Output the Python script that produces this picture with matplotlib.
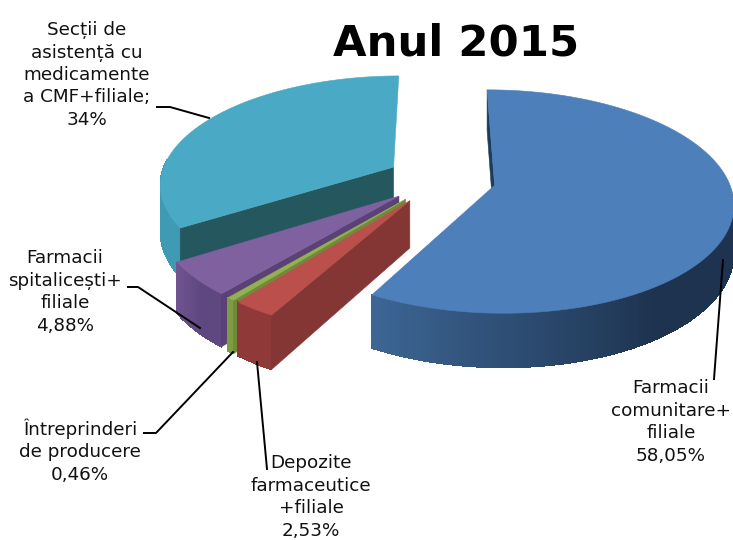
"""Exploded 3D pie chart, drawn by hand on a pixel-sized axes."""

import numpy as np
import matplotlib
matplotlib.use("Agg")
import matplotlib.pyplot as plt
from matplotlib.colors import to_rgb
from matplotlib.patches import Polygon

# Data, clockwise from the top of the pie
categories = [
    "Farmacii\ncomunitare+\nfiliale",
    "Depozite\nfarmaceutice\n+filiale",
    "Întreprinderi\nde producere",
    "Farmacii\nspitalicești+\nfiliale",
    "Secții de\nasistență cu\nmedicamente\na CMF+filiale;",
]
shares = [58.05, 2.53, 0.46, 4.88, 34.0]
share_labels = ["58,05%", "2,53%", "0,46%", "4,88%", "34%"]

# Colours per slice
top_colors = ["#4d7fba", "#bb4f4b", "#93b24f", "#7f61a0", "#4aa9c4"]
wall_left = ["#3d6695", "#8f3a38", "#7e9a42", "#6f5490", "#3f9ab4"]
wall_right = ["#1d334f", "#8f3a38", "#7e9a42", "#5f4880", "#3f9ab4"]
side_colors = ["#1d3c5c", "#843634", "#6f8a38", "#5a4277", "#25575f"]

# Projection of the ground plane to pixels
X0, Y0 = 441, 179
SCALE_X, SCALE_Y = 233.5, 107.5
PERSP = 0.144
EXPLODE = 0.235
DEPTH = 46
START_ANGLE = -0.2
# Only the part of each rim that faces the viewer gets a wall
WALL_FROM = [95, 0, 0, 0, 0]
WALL_TO = [360, 360, 360, 360, 274]

# Label centres and leader lines, in pixels
label_pos = [(671, 422), (311, 497), (80, 451), (65, 292), (87, 75)]
leaders = [
    [(723, 260), (714, 379)],
    [(257, 362), (267, 469)],
    [(233, 352), (156, 433), (144, 433)],
    [(200, 328), (138, 287), (128, 287)],
    [(209, 118), (170, 107), (157, 107)],
]


def project(x, y, depth=0.0):
    w = 1 + PERSP * y
    return X0 + SCALE_X * x / w, Y0 - SCALE_Y * y / w + depth / w


def rim(deg, off):
    a = np.radians(deg)
    return np.sin(a) + off[0], np.cos(a) + off[1]


def face(ax, pts, color, z, smooth=True):
    ax.add_patch(Polygon(pts, closed=True, facecolor=color, edgecolor=color,
                         linewidth=0.4, antialiased=smooth, zorder=z))


def draw_slice(ax, i, a0, a1, z):
    mid = np.radians((a0 + a1) / 2)
    off = (EXPLODE * np.sin(mid), EXPLODE * np.cos(mid))
    apex = off

    # Outer wall, shaded in small strips
    left, right = np.array(to_rgb(wall_left[i])), np.array(to_rgb(wall_right[i]))
    wall_start = max(a0, WALL_FROM[i])
    wall_end = min(a1, WALL_TO[i])
    steps = np.linspace(wall_start, wall_end, max(int(wall_end - wall_start) * 2, 4))
    for s0, s1 in zip(steps[:-1], steps[1:]):
        t = np.clip((wall_end - s1) / max(wall_end - wall_start, 1) * 1.8, 0, 1)
        col = left * (1 - t) + right * t
        p0, p1 = rim(s0, off), rim(s1, off)
        face(ax, [project(*p0), project(*p1),
                  project(*p1, DEPTH), project(*p0, DEPTH)], col, z, smooth=False)

    # Radial wall on the start side is the one facing the viewer
    e = rim(a0, off)
    face(ax, [project(*apex), project(*e), project(*e, DEPTH),
              project(*apex, DEPTH)], side_colors[i], z + 0.1)

    # Top face
    arc = np.linspace(a0, a1, max(int(a1 - a0) * 2, 3))
    pts = [project(*apex)] + [project(*rim(d, off)) for d in arc]
    face(ax, pts, top_colors[i], z + 0.2)


def create_chart():
    fig = plt.figure(figsize=(7.33, 5.4), dpi=100)
    ax = fig.add_axes([0, 0, 1, 1])
    ax.set_xlim(0, 733)
    ax.set_ylim(540, 0)
    ax.axis("off")

    edges = START_ANGLE + np.cumsum([0] + shares) / sum(shares) * 360

    # Back to front: teal, purple, green, red, then blue
    for z, i in enumerate([4, 3, 2, 1, 0]):
        draw_slice(ax, i, edges[i], edges[i + 1], z + 1)

    for line in leaders:
        xs, ys = zip(*line)
        ax.plot(xs, ys, color="black", linewidth=1.4, zorder=10)

    for name, share, (x, y) in zip(categories, share_labels, label_pos):
        ax.text(x, y, f"{name}\n{share}", ha="center", va="center",
                fontsize=13.2, color="#111111", linespacing=1.31,
                family="DejaVu Sans", zorder=11)

    ax.text(456, 44, "Anul 2015", ha="center", va="center", fontsize=31.2,
            fontweight="bold", color="black", family="DejaVu Sans", zorder=11)

    fig.savefig("out.png", dpi=100)
    plt.close(fig)


if __name__ == "__main__":
    create_chart()
